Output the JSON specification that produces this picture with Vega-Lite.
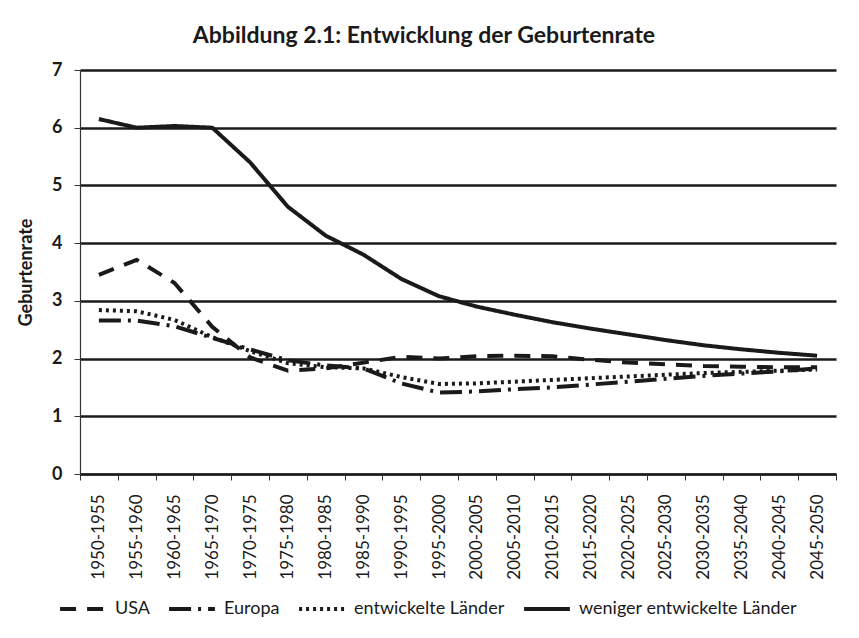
{
  "$schema": "https://vega.github.io/schema/vega-lite/v6.json",
  "width": 756,
  "height": 404,
  "autosize": {"type": "none"},
  "padding": {"left": 80, "top": 70, "right": 23, "bottom": 164},
  "background": "white",
  "title": {
    "text": "Abbildung 2.1: Entwicklung der Geburtenrate",
    "font": "Lato",
    "fontSize": 23,
    "fontWeight": "bold",
    "color": "#1a1a1a",
    "anchor": "middle",
    "offset": 13,
    "dx": -34
  },
  "data": {
    "values": [
      {"periode": "1950-1955", "serie": "USA", "rate": 3.45},
      {"periode": "1955-1960", "serie": "USA", "rate": 3.71},
      {"periode": "1960-1965", "serie": "USA", "rate": 3.31},
      {"periode": "1965-1970", "serie": "USA", "rate": 2.55},
      {"periode": "1970-1975", "serie": "USA", "rate": 2.02},
      {"periode": "1975-1980", "serie": "USA", "rate": 1.79},
      {"periode": "1980-1985", "serie": "USA", "rate": 1.83},
      {"periode": "1985-1990", "serie": "USA", "rate": 1.93},
      {"periode": "1990-1995", "serie": "USA", "rate": 2.03},
      {"periode": "1995-2000", "serie": "USA", "rate": 2.0},
      {"periode": "2000-2005", "serie": "USA", "rate": 2.04},
      {"periode": "2005-2010", "serie": "USA", "rate": 2.05},
      {"periode": "2010-2015", "serie": "USA", "rate": 2.04},
      {"periode": "2015-2020", "serie": "USA", "rate": 1.98},
      {"periode": "2020-2025", "serie": "USA", "rate": 1.93},
      {"periode": "2025-2030", "serie": "USA", "rate": 1.9},
      {"periode": "2030-2035", "serie": "USA", "rate": 1.87},
      {"periode": "2035-2040", "serie": "USA", "rate": 1.86},
      {"periode": "2040-2045", "serie": "USA", "rate": 1.85},
      {"periode": "2045-2050", "serie": "USA", "rate": 1.85},
      {"periode": "1950-1955", "serie": "Europa", "rate": 2.66},
      {"periode": "1955-1960", "serie": "Europa", "rate": 2.66},
      {"periode": "1960-1965", "serie": "Europa", "rate": 2.56},
      {"periode": "1965-1970", "serie": "Europa", "rate": 2.36},
      {"periode": "1970-1975", "serie": "Europa", "rate": 2.16},
      {"periode": "1975-1980", "serie": "Europa", "rate": 1.97},
      {"periode": "1980-1985", "serie": "Europa", "rate": 1.88},
      {"periode": "1985-1990", "serie": "Europa", "rate": 1.83},
      {"periode": "1990-1995", "serie": "Europa", "rate": 1.57},
      {"periode": "1995-2000", "serie": "Europa", "rate": 1.41},
      {"periode": "2000-2005", "serie": "Europa", "rate": 1.43},
      {"periode": "2005-2010", "serie": "Europa", "rate": 1.47},
      {"periode": "2010-2015", "serie": "Europa", "rate": 1.5},
      {"periode": "2015-2020", "serie": "Europa", "rate": 1.55},
      {"periode": "2020-2025", "serie": "Europa", "rate": 1.6},
      {"periode": "2025-2030", "serie": "Europa", "rate": 1.65},
      {"periode": "2030-2035", "serie": "Europa", "rate": 1.7},
      {"periode": "2035-2040", "serie": "Europa", "rate": 1.74},
      {"periode": "2040-2045", "serie": "Europa", "rate": 1.78},
      {"periode": "2045-2050", "serie": "Europa", "rate": 1.83},
      {"periode": "1950-1955", "serie": "entwickelte Länder", "rate": 2.84},
      {"periode": "1955-1960", "serie": "entwickelte Länder", "rate": 2.82},
      {"periode": "1960-1965", "serie": "entwickelte Länder", "rate": 2.67},
      {"periode": "1965-1970", "serie": "entwickelte Länder", "rate": 2.37},
      {"periode": "1970-1975", "serie": "entwickelte Länder", "rate": 2.13},
      {"periode": "1975-1980", "serie": "entwickelte Länder", "rate": 1.92},
      {"periode": "1980-1985", "serie": "entwickelte Länder", "rate": 1.85},
      {"periode": "1985-1990", "serie": "entwickelte Länder", "rate": 1.83},
      {"periode": "1990-1995", "serie": "entwickelte Länder", "rate": 1.68},
      {"periode": "1995-2000", "serie": "entwickelte Länder", "rate": 1.56},
      {"periode": "2000-2005", "serie": "entwickelte Länder", "rate": 1.57},
      {"periode": "2005-2010", "serie": "entwickelte Länder", "rate": 1.6},
      {"periode": "2010-2015", "serie": "entwickelte Länder", "rate": 1.63},
      {"periode": "2015-2020", "serie": "entwickelte Länder", "rate": 1.66},
      {"periode": "2020-2025", "serie": "entwickelte Länder", "rate": 1.69},
      {"periode": "2025-2030", "serie": "entwickelte Länder", "rate": 1.72},
      {"periode": "2030-2035", "serie": "entwickelte Länder", "rate": 1.75},
      {"periode": "2035-2040", "serie": "entwickelte Länder", "rate": 1.77},
      {"periode": "2040-2045", "serie": "entwickelte Länder", "rate": 1.79},
      {"periode": "2045-2050", "serie": "entwickelte Länder", "rate": 1.81},
      {"periode": "1950-1955", "serie": "weniger entwickelte Länder", "rate": 6.15},
      {"periode": "1955-1960", "serie": "weniger entwickelte Länder", "rate": 6.0},
      {"periode": "1960-1965", "serie": "weniger entwickelte Länder", "rate": 6.03},
      {"periode": "1965-1970", "serie": "weniger entwickelte Länder", "rate": 6.0},
      {"periode": "1970-1975", "serie": "weniger entwickelte Länder", "rate": 5.4},
      {"periode": "1975-1980", "serie": "weniger entwickelte Länder", "rate": 4.63},
      {"periode": "1980-1985", "serie": "weniger entwickelte Länder", "rate": 4.13},
      {"periode": "1985-1990", "serie": "weniger entwickelte Länder", "rate": 3.8},
      {"periode": "1990-1995", "serie": "weniger entwickelte Länder", "rate": 3.38},
      {"periode": "1995-2000", "serie": "weniger entwickelte Länder", "rate": 3.08},
      {"periode": "2000-2005", "serie": "weniger entwickelte Länder", "rate": 2.9},
      {"periode": "2005-2010", "serie": "weniger entwickelte Länder", "rate": 2.76},
      {"periode": "2010-2015", "serie": "weniger entwickelte Länder", "rate": 2.63},
      {"periode": "2015-2020", "serie": "weniger entwickelte Länder", "rate": 2.52},
      {"periode": "2020-2025", "serie": "weniger entwickelte Länder", "rate": 2.42},
      {"periode": "2025-2030", "serie": "weniger entwickelte Länder", "rate": 2.32},
      {"periode": "2030-2035", "serie": "weniger entwickelte Länder", "rate": 2.23},
      {"periode": "2035-2040", "serie": "weniger entwickelte Länder", "rate": 2.16},
      {"periode": "2040-2045", "serie": "weniger entwickelte Länder", "rate": 2.1},
      {"periode": "2045-2050", "serie": "weniger entwickelte Länder", "rate": 2.05}
    ]
  },
  "mark": {"type": "line", "strokeWidth": 4, "color": "#1a1a1a", "strokeCap": "butt", "strokeJoin": "round"},
  "encoding": {
    "x": {
      "field": "periode",
      "type": "ordinal",
      "sort": null,
      "bandPosition": 0.5,
      "scale": {"type": "band", "paddingInner": 0, "paddingOuter": 0},
      "axis": {
        "title": null,
        "labelAngle": -90,
        "labelFont": "Lato",
        "labelFontSize": 17,
        "labelColor": "#1a1a1a",
        "labelPadding": 14,
        "tickBand": "extent",
        "tickSize": 6,
        "tickColor": "#333",
        "tickWidth": 1,
        "domain": true,
        "domainColor": "#1a1a1a",
        "domainWidth": 2,
        "grid": false
      }
    },
    "y": {
      "field": "rate",
      "type": "quantitative",
      "scale": {"domain": [0, 7]},
      "axis": {
        "title": "Geburtenrate",
        "titleFont": "Lato",
        "titleFontSize": 18,
        "titleFontWeight": "bold",
        "titleColor": "#1a1a1a",
        "titlePadding": 16,
        "values": [0, 1, 2, 3, 4, 5, 6, 7],
        "labelFont": "Lato",
        "labelFontSize": 18,
        "labelFontWeight": "bold",
        "labelColor": "#1a1a1a",
        "labelPadding": 12,
        "tickSize": 6,
        "tickColor": "#333",
        "tickWidth": 1,
        "domain": true,
        "domainColor": "#333",
        "domainWidth": 1.2,
        "grid": true,
        "gridColor": "#1a1a1a",
        "gridWidth": 2.4,
        "gridOpacity": 1
      }
    },
    "strokeDash": {
      "field": "serie",
      "type": "nominal",
      "scale": {
        "domain": ["USA", "Europa", "entwickelte Länder", "weniger entwickelte Länder"],
        "range": [[16, 11], [22, 7, 3, 7], [3, 4], [1, 0]]
      },
      "legend": {
        "title": null,
        "orient": "none",
        "legendX": -22,
        "legendY": 514,
        "direction": "horizontal",
        "symbolType": "stroke",
        "symbolSize": 2100,
        "symbolStrokeWidth": 4,
        "symbolStrokeColor": "#1a1a1a",
        "labelFont": "Lato",
        "labelFontSize": 18,
        "labelColor": "#1a1a1a",
        "labelLimit": 0,
        "columnPadding": 11,
        "labelOffset": 7
      }
    }
  },
  "config": {
    "view": {"stroke": null}
  }
}
